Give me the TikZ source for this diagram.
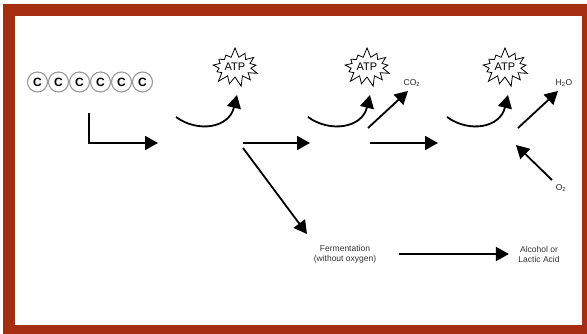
\documentclass[tikz,border=0pt]{standalone}
\usepackage{fontspec}
\setmainfont{Liberation Sans}
\usetikzlibrary{arrows.meta,shapes.symbols}
\definecolor{framered}{RGB}{164,46,16}

\begin{document}
\begin{tikzpicture}[
    x=1pt, y=-1pt,
    carbon/.style={draw=gray!80, circle, line width=1.1pt, minimum size=20pt, inner sep=0pt, font=\bfseries\fontsize{12}{12}\selectfont},
    atp/.style={draw, starburst, starburst points=13, starburst point height=10pt, random starburst=7, minimum width=45pt, minimum height=40pt, inner sep=1pt, line width=0.8pt, font=\fontsize{11}{11}\selectfont},
    note/.style={align=center, text=black!80, font=\fontsize{8.5}{10}\selectfont},
    small/.style={text=black!85, font=\fontsize{8.5}{9}\selectfont},
    edge/.style={-{Triangle[length=13pt,width=14pt]}, line width=1.8pt},
]

% Frame
\useasboundingbox (0,0) rectangle (587,334);
\fill[white] (0,0) rectangle (587,334);
\fill[framered] (3,4) rectangle (587,334);
\fill[white] (15,16) rectangle (582,325);

% Nodes
\foreach \i in {1,...,6}
    \node[carbon] (c\i) at ({16.5+21*\i},82) {C};
\node[atp] (atp1) at (235,67) {ATP};
\node[atp] (atp2) at (367,67) {ATP};
\node[atp] (atp3) at (505,67) {ATP};
\node[small] (co2) at (412,83) {CO\textsubscript{2}};
\node[small] (h2o) at (564,83) {H\textsubscript{2}O};
\node[small] (o2) at (561,188) {O\textsubscript{2}};
\node[note] (ferm) at (345,254) {Fermentation\\(without oxygen)};
\node[note] (alc) at (539,254) {Alcohol or\\Lactic Acid};

% Arrow ends
\coordinate (gly) at (89,113);
\coordinate (pyr) at (158,143);
\coordinate (bend1s) at (176,117);
\coordinate (bend1e) at (237,95);
\coordinate (fork) at (243,143);
\coordinate (link) at (310,143);
\coordinate (split) at (243,148);
\coordinate (anae) at (307,234);
\coordinate (bend2s) at (308,117);
\coordinate (bend2e) at (370,95);
\coordinate (co2s) at (368,128);
\coordinate (co2e) at (408,91);
\coordinate (kreb) at (370,143);
\coordinate (etc) at (438,143);
\coordinate (bend3s) at (447,117);
\coordinate (bend3e) at (508,95);
\coordinate (h2os) at (518,128);
\coordinate (h2oe) at (558,91);
\coordinate (o2s) at (552,180);
\coordinate (o2e) at (516,145);

% Edges
\draw[edge] (gly) |- (pyr);
\draw[edge] (bend1s) .. controls (198,133) and (229,128) .. (bend1e);
\draw[edge] (fork) -- (link);
\draw[edge] (split) -- (anae);
\draw[edge] (bend2s) .. controls (330,133) and (362,128) .. (bend2e);
\draw[edge] (co2s) -- (co2e);
\draw[edge] (kreb) -- (etc);
\draw[edge] (bend3s) .. controls (469,133) and (500,128) .. (bend3e);
\draw[edge] (h2os) -- (h2oe);
\draw[edge] (o2s) -- (o2e);
\draw[edge, shorten <=19pt, shorten >=6pt] (ferm) -- (alc);

\end{tikzpicture}
\end{document}
